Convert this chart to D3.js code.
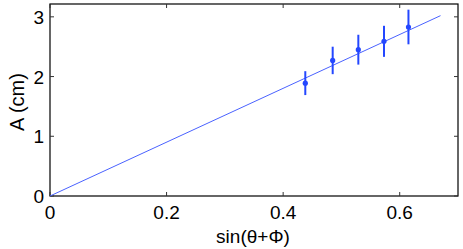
<!DOCTYPE html>
<html>
<head>
<meta charset="utf-8">
<script src="https://cdn.jsdelivr.net/npm/d3@7"></script>
<style>
  body { margin: 0; background: #fff; }
  text { font-family: "Liberation Sans", Arial, sans-serif; fill: #000; }
</style>
</head>
<body>
<svg id="chart" width="463" height="249"></svg>
<script>
// measured points with error bars
var sinVals = [0.438, 0.485, 0.529, 0.573, 0.615],
    ampVals = [1.89, 2.27, 2.45, 2.59, 2.83],
    ampErr = [0.20, 0.23, 0.25, 0.26, 0.29];

// fitted line through origin
var fitX = [0, 0.67],
    fitY = [0, 3.02];

var xTicks = [0, 0.2, 0.4, 0.6],
    yTicks = [0, 1, 2, 3];

var svg = d3.select('#chart'),
    plotL = 50, plotR = 458, plotT = 4, plotB = 196;

var x = d3.scaleLinear().domain([0, 0.7]).range([plotL, plotR]),
    y = d3.scaleLinear().domain([0, 3.215]).range([plotB, plotT]);

// frame
svg.append('rect')
    .attr('x', plotL).attr('y', plotT)
    .attr('width', plotR - plotL).attr('height', plotB - plotT)
    .attr('fill', 'none').attr('stroke', '#000').attr('stroke-width', 1.2);

// inward ticks on all four sides
var tick = 4;
xTicks.forEach(function(t) {
    svg.append('line').attr('x1', x(t)).attr('x2', x(t))
        .attr('y1', plotB).attr('y2', plotB - tick).attr('stroke', '#333');
    svg.append('line').attr('x1', x(t)).attr('x2', x(t))
        .attr('y1', plotT).attr('y2', plotT + tick).attr('stroke', '#333');
    svg.append('text')
        .attr('x', x(t)).attr('y', 219)
        .attr('text-anchor', 'middle')
        .style('font-size', '19px')
        .text(t === 0 ? '0' : t.toFixed(1));
});
yTicks.forEach(function(t) {
    svg.append('line').attr('x1', plotL).attr('x2', plotL + tick)
        .attr('y1', y(t)).attr('y2', y(t)).attr('stroke', '#333');
    svg.append('line').attr('x1', plotR).attr('x2', plotR - tick)
        .attr('y1', y(t)).attr('y2', y(t)).attr('stroke', '#333');
    svg.append('text')
        .attr('x', 44).attr('y', y(t) + 7)
        .attr('text-anchor', 'end')
        .style('font-size', '19px')
        .text(t);
});

// fit line
svg.append('line')
    .attr('x1', x(fitX[0])).attr('y1', y(fitY[0]))
    .attr('x2', x(fitX[1])).attr('y2', y(fitY[1]))
    .attr('stroke', '#4a62ff').attr('stroke-width', 1);

// error bars and points
var pts = sinVals.map(function(s, i) { return [s, ampVals[i], ampErr[i]]; });

svg.selectAll('.err').data(pts).enter()
  .append('line')
    .attr('x1', function(d) { return x(d[0]); })
    .attr('x2', function(d) { return x(d[0]); })
    .attr('y1', function(d) { return y(d[1] + d[2]); })
    .attr('y2', function(d) { return y(d[1] - d[2]); })
    .attr('stroke', '#2447ff').attr('stroke-width', 2);

svg.selectAll('.pt').data(pts).enter()
  .append('circle')
    .attr('cx', function(d) { return x(d[0]); })
    .attr('cy', function(d) { return y(d[1]); })
    .attr('r', 2.6)
    .attr('fill', '#2447ff');

// axis labels
svg.append('text')
    .attr('x', 253).attr('y', 243)
    .attr('text-anchor', 'middle')
    .style('font-size', '19px')
    .text('sin(\u03b8+\u03a6)');

svg.append('text')
    .attr('transform', 'translate(24,102) rotate(-90)')
    .attr('text-anchor', 'middle')
    .style('font-size', '20px')
    .text('A (cm)');
</script>
</body>
</html>
